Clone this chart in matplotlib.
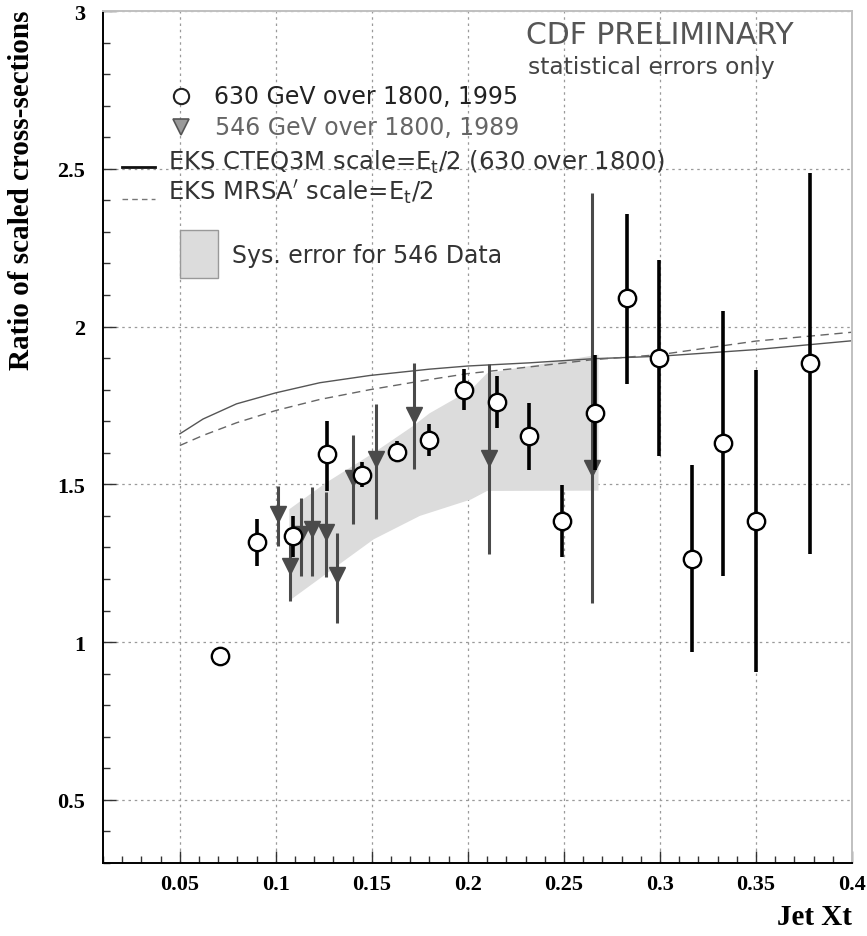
import matplotlib
matplotlib.use("Agg")
import matplotlib.pyplot as plt
import numpy as np
from matplotlib.ticker import MultipleLocator, FixedLocator
from matplotlib.patches import Rectangle
from matplotlib.lines import Line2D

# ---------------- data ----------------
# 630 GeV over 1800 (1995), circles
x630 = [0.0708, 0.090, 0.109, 0.1267, 0.145, 0.163, 0.180, 0.198, 0.215, 0.2318,
        0.249, 0.266, 0.2826, 0.2997, 0.3169, 0.333, 0.350, 0.378]
y630 = [0.957, 1.316, 1.336, 1.595, 1.53, 1.604, 1.639, 1.80, 1.762, 1.653,
        1.384, 1.727, 2.089, 1.90, 1.263, 1.632, 1.384, 1.885]
lo630 = [0.957, 1.24, 1.27, 1.48, 1.49, 1.57, 1.59, 1.737, 1.677, 1.544,
         1.269, 1.547, 1.818, 1.59, 0.97, 1.21, 0.905, 1.278]
hi630 = [0.957, 1.389, 1.40, 1.70, 1.57, 1.637, 1.69, 1.867, 1.843, 1.758,
         1.497, 1.911, 2.356, 2.212, 1.56, 2.049, 1.861, 2.487]

# 546 GeV over 1800 (1989), triangles
x546 = [0.1009, 0.1073, 0.113, 0.119, 0.1259, 0.132, 0.140, 0.152, 0.172, 0.211, 0.2647]
y546 = [1.405, 1.241, 1.342, 1.357, 1.349, 1.212, 1.519, 1.579, 1.72, 1.584, 1.553]
lo546 = [1.305, 1.131, 1.21, 1.21, 1.207, 1.06, 1.373, 1.389, 1.55, 1.28, 1.125]
hi546 = [1.495, 1.336, 1.458, 1.49, 1.475, 1.345, 1.656, 1.756, 1.883, 1.88, 2.424]

# systematic error band for 546 data (upper and lower edges)
band_top_x = [0.107, 0.1264, 0.151, 0.1715, 0.180, 0.2016, 0.210, 0.232, 0.268]
band_top_y = [1.421, 1.506, 1.600, 1.685, 1.725, 1.800, 1.852, 1.875, 1.911]
band_bot_x = [0.107, 0.132, 0.151, 0.175, 0.2016, 0.210, 0.268]
band_bot_y = [1.131, 1.242, 1.326, 1.400, 1.452, 1.479, 1.480]

# EKS theory curves
cteq_x = [0.05, 0.0621, 0.0795, 0.10, 0.1229, 0.149, 0.18, 0.20, 0.232, 0.265, 0.30, 0.35, 0.40]
cteq_y = [1.66, 1.707, 1.755, 1.79, 1.822, 1.845, 1.865, 1.875, 1.885, 1.898, 1.906, 1.927, 1.955]
mrsa_x = [0.05, 0.0621, 0.0795, 0.10, 0.1229, 0.149, 0.18, 0.20, 0.232, 0.265, 0.30, 0.35, 0.40]
mrsa_y = [1.623, 1.655, 1.695, 1.734, 1.769, 1.800, 1.832, 1.851, 1.872, 1.895, 1.911, 1.954, 1.982]

xticks = [0.05, 0.1, 0.15, 0.2, 0.25, 0.3, 0.35, 0.4]
xticklabels = ["0.05", "0.1", "0.15", "0.2", "0.25", "0.3", "0.35", "0.4"]
yticks = [0.5, 1, 1.5, 2, 2.5, 3]
yticklabels = ["0.5", "1", "1.5", "2", "2.5", "3"]

# ---------------- figure ----------------
W, H = 867, 937
fig = plt.figure(figsize=(W / 100, H / 100), dpi=100)
L, R, T, B = 103, 852, 12, 864
ax = fig.add_axes([L / W, 1 - B / H, (R - L) / W, (B - T) / H])
ax.set_xlim(0.01, 0.4)
ax.set_ylim(0.3, 3.0)

serif = "Liberation Serif"
sans = "DejaVu Sans"

ax.xaxis.set_major_locator(FixedLocator(xticks))
ax.yaxis.set_major_locator(FixedLocator(yticks))
ax.xaxis.set_minor_locator(MultipleLocator(0.01))
ax.yaxis.set_minor_locator(MultipleLocator(0.1))
ax.set_xticklabels(xticklabels, fontfamily=serif, fontweight="bold", fontsize=16)
ax.set_yticklabels(yticklabels, fontfamily=serif, fontweight="bold", fontsize=16)
ax.tick_params(axis="both", which="major", direction="in", length=9, width=1, color="#333333")
ax.tick_params(axis="both", which="minor", direction="in", length=5, width=1, color="#333333")
ax.tick_params(axis="x", which="major", pad=8)
ax.tick_params(axis="y", which="major", pad=13)
ax.tick_params(top=False, right=False, which="both")

ax.grid(True, which="major", color="#9a9a9a", linestyle=(0, (2, 3)), linewidth=0.9)
ax.set_axisbelow(True)

for s in ["left", "bottom"]:
    ax.spines[s].set_color("black")
    ax.spines[s].set_linewidth(1.4)
for s in ["top", "right"]:
    ax.spines[s].set_color("#c0c0c0")
    ax.spines[s].set_linewidth(1.4)

# band
ax.fill(band_top_x + band_bot_x[::-1], band_top_y + band_bot_y[::-1],
        color="#dcdcdc", linewidth=0, zorder=1)

# curves
ax.plot(cteq_x, cteq_y, color="#555555", linewidth=1.0, zorder=2)
ax.plot(mrsa_x, mrsa_y, color="#666666", linewidth=1.0, linestyle=(0, (6, 4)), zorder=2)

# triangles
y546a = np.array(y546)
err546 = [y546a - np.array(lo546), np.array(hi546) - y546a]
ax.errorbar(x546, y546, yerr=err546, fmt="v", color="#4a4a4a", ecolor="#4a4a4a",
            markersize=11, elinewidth=2.2, capsize=0, zorder=3)

# circles
y630a = np.array(y630)
err630 = [y630a - np.array(lo630), np.array(hi630) - y630a]
ax.errorbar(x630, y630, yerr=err630, fmt="none", ecolor="black", elinewidth=2.6,
            capsize=0, zorder=4)
ax.plot(x630, y630, "o", markersize=12.5, markerfacecolor="white",
        markeredgecolor="black", markeredgewidth=1.7, linestyle="none", zorder=5)

# ---------------- legend / annotations ----------------
def afx(px):
    return (px - L) / (R - L)

def afy(py):
    return (B - py) / (B - T)

ta = ax.transAxes
ax.text(afx(526), afy(35), "CDF PRELIMINARY", transform=ta, fontfamily=sans,
        fontsize=21.5, color="#555555", va="center", ha="left")
ax.text(afx(528), afy(67), "statistical errors only", transform=ta, fontfamily=sans,
        fontsize=16.8, color="#444444", va="center", ha="left")

ax.add_line(Line2D([afx(181)], [afy(97)], transform=ta, marker="o", markersize=11,
                   markerfacecolor="white", markeredgecolor="#222222", markeredgewidth=1.5))
ax.text(afx(214), afy(97), "630 GeV over 1800, 1995", transform=ta, fontfamily=sans,
        fontsize=17, color="#222222", va="center", ha="left")

ax.add_line(Line2D([afx(181)], [afy(128)], transform=ta, marker="v", markersize=11,
                   markerfacecolor="#9a9a9a", markeredgecolor="#555555", markeredgewidth=1.2))
ax.text(afx(215), afy(128), "546 GeV over 1800, 1989", transform=ta, fontfamily=sans,
        fontsize=17, color="#666666", va="center", ha="left")

ax.add_line(Line2D([afx(122), afx(155)], [afy(168), afy(168)], transform=ta,
                   color="#111111", linewidth=2.0))
ax.text(afx(168), afy(162), r"EKS CTEQ3M scale=E$_{\rm t}$/2 (630 over 1800)",
        transform=ta, fontfamily=sans, fontsize=17.5, color="#333333", va="center", ha="left")

ax.add_line(Line2D([afx(122), afx(155)], [afy(200), afy(200)], transform=ta,
                   color="#777777", linewidth=1.0, linestyle=(0, (4, 3))))
ax.text(afx(168), afy(193), r"EKS MRSA$^{\prime}$ scale=E$_{\rm t}$/2",
        transform=ta, fontfamily=sans, fontsize=17.5, color="#333333", va="center", ha="left")

ax.add_patch(Rectangle((afx(180), afy(279)), afx(218) - afx(180), afy(231) - afy(279),
                       transform=ta, facecolor="#dcdcdc", edgecolor="#999999", linewidth=1.0))
ax.text(afx(232), afy(256), "Sys. error for 546 Data", transform=ta, fontfamily=sans,
        fontsize=17, color="#333333", va="center", ha="left")

# axis titles
fig.text(22 / W, 1 - 10 / H, "Ratio of scaled cross-sections", rotation=90,
         fontfamily=serif, fontweight="bold", fontsize=21, ha="center", va="top")
fig.text(852 / W, 1 - 918 / H, "Jet Xt", fontfamily=serif, fontweight="bold",
         fontsize=21, ha="right", va="center")

fig.savefig("out.png", dpi=100)
